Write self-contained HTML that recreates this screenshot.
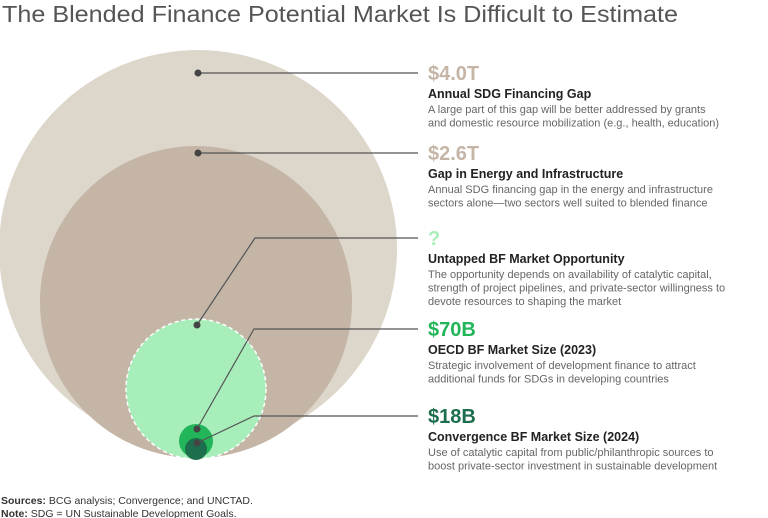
<!DOCTYPE html>
<html><head><meta charset="utf-8"><style>
body{margin:0;background:#fff;}
svg{display:block;font-family:"Liberation Sans",sans-serif;}
</style></head><body>
<svg width="768" height="518" viewBox="0 0 768 518">
<text x="2" y="22" font-size="23" fill="#555" textLength="676" lengthAdjust="spacingAndGlyphs">The Blended Finance Potential Market Is Difficult to Estimate</text>
<g id="circles"></g>
<g id="callouts"></g>
<text x="1" y="504" font-size="10.5" fill="#333"><tspan font-weight="bold">Sources:</tspan> BCG analysis; Convergence; and UNCTAD.</text>
<text x="1" y="517" font-size="10.5" fill="#333"><tspan font-weight="bold">Note:</tspan> SDG = UN Sustainable Development Goals.</text>
</svg>
<script>
const values=["$4.0T","$2.6T","?","$70B","$18B"];
const titles=["Annual SDG Financing Gap","Gap in Energy and Infrastructure","Untapped BF Market Opportunity","OECD BF Market Size (2023)","Convergence BF Market Size (2024)"];
const descs=[["A large part of this gap will be better addressed by grants","and domestic resource mobilization (e.g., health, education)"],["Annual SDG financing gap in the energy and infrastructure","sectors alone—two sectors well suited to blended finance"],["The opportunity depends on availability of catalytic capital,","strength of project pipelines, and private-sector willingness to","devote resources to shaping the market"],["Strategic involvement of development finance to attract","additional funds for SDGs in developing countries"],["Use of catalytic capital from public/philanthropic sources to","boost private-sector investment in sustainable development"]];
const ns="http://www.w3.org/2000/svg";
function mk(p,t,a){const e=document.createElementNS(ns,t);for(const k in a)e.setAttribute(k,a[k]);p.appendChild(e);return e;}
const C=document.getElementById('circles'),L=document.getElementById('callouts');
const circ=[[198,249,199,"#ddd6cb"],[196,302,156,"#c4b5a6"],[196,389,70,"#a8eebb"],[196,441,17,"#22b55a"],[196,449,11,"#1c6e4c"]];
const cnames=['circle-sdg-gap','circle-energy-infra','circle-untapped','circle-oecd','circle-convergence'];
circ.forEach((c,i)=>{const e=mk(C,'circle',{cx:c[0],cy:c[1],r:c[2],fill:c[3]});
if(i==2){e.setAttribute('stroke','#fff');e.setAttribute('stroke-width','1.5');e.setAttribute('stroke-dasharray','4 3');}

});
const dots=[[198,73],[198,153],[197,325],[197,429],[197,443]];
const elbow=[[198,73],[198,153],[255,238],[254,329],[254,416]];
const labelY=[73,153,238,329,416];
const vcol=["#c4b5a6","#c4b5a6","#a8eebb","#22b55a","#1c6e4c"];
for(let i=0;i<5;i++){
 const g=mk(L,'g',{});
 
 
 mk(g,'polyline',{points:`${dots[i][0]},${dots[i][1]} ${elbow[i][0]},${elbow[i][1]} 418,${labelY[i]}`,fill:'none',stroke:'#555','stroke-width':1.2});
 mk(g,'circle',{cx:dots[i][0],cy:dots[i][1],r:3.5,fill:'#444'});
 const v=mk(g,'text',{x:428,y:labelY[i]+7,'font-size':20,'font-weight':'bold',fill:vcol[i]});v.textContent=values[i];
 const t=mk(g,'text',{x:428,y:labelY[i]+25,'font-size':12.5,'font-weight':'bold',fill:'#222'});t.textContent=titles[i];
 descs[i].forEach((d,j)=>{const e=mk(g,'text',{x:428,y:labelY[i]+40+j*13.5,'font-size':11,fill:'#666'});e.textContent=d;});
}
</script>
</body></html>
